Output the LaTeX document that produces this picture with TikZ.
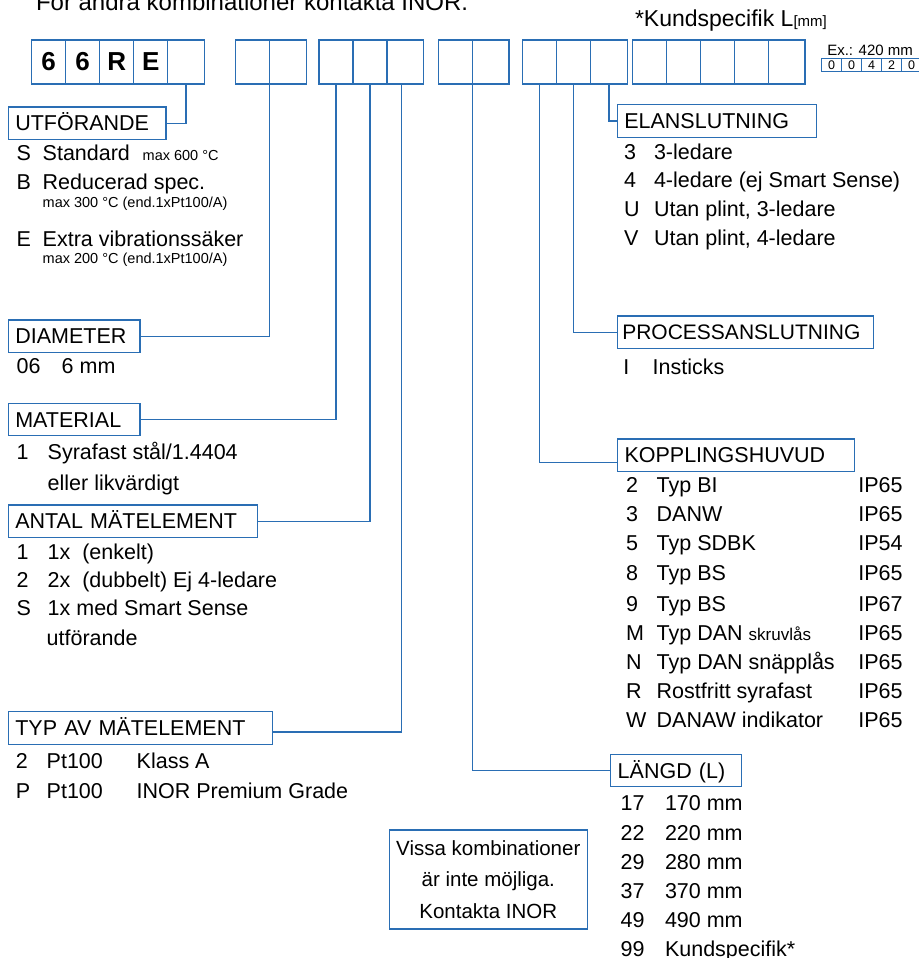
\documentclass[tikz,border=0pt]{standalone}
\usepackage{fontspec}
\setmainfont{Liberation Sans}
\usetikzlibrary{positioning}
\definecolor{inorblue}{RGB}{42,110,180}
\tikzset{
    % connector from a code cell down to its heading
    lead/.style={
           draw=inorblue,
           line width=1.3pt,}
}
\newcommand{\cellwidth}{34pt}
\newcommand{\cellheight}{44pt}
\newcommand{\bodyfont}{\fontsize{21.5}{25}\selectfont}
\newcommand{\smallfont}{\fontsize{14.5}{17}\selectfont}

\begin{document}
\begin{tikzpicture}[x=1pt, y=-1pt, node distance=0pt, outer sep=0pt]
\tikzstyle{cell}=[draw=inorblue, line width=1.3pt, rectangle, minimum height=\cellheight, minimum width=\cellwidth, anchor=north west, inner sep=0pt, font=\fontsize{26}{30}\selectfont\bfseries]
\tikzstyle{lastcell}=[cell, minimum width=36.6pt]
\tikzstyle{excell}=[draw=inorblue, line width=0.9pt, rectangle, minimum height=13.4pt, minimum width=20pt, anchor=north west, inner sep=0pt, font=\fontsize{12.5}{14}\selectfont]
\tikzstyle{head}=[draw=inorblue, line width=1.3pt, rectangle, anchor=north west, minimum height=32.5pt, inner xsep=7pt, text height=15.4pt, text depth=0pt, align=left, font=\bodyfont]
\tikzstyle{txt}=[anchor=base west, inner sep=0pt, font=\bodyfont]
\tikzstyle{small}=[txt, font=\smallfont]

\useasboundingbox (0,0) rectangle (918,958);

\node[txt, font=\fontsize{24}{28}\selectfont] (title) at (36,11) {För andra kombinationer kontakta INOR.};
\node[txt, font=\fontsize{23}{27}\selectfont] (kund) at (635,26.7) {*Kundspecifik L{\fontsize{15}{17}\selectfont[mm]}};
\node[txt, font=\fontsize{15}{17}\selectfont] (exlabel) at (827.3,56) {Ex.: 420 mm};

% code cells
\node[cell] (u1) at (31.7,40) {6};
\node[cell] (u2) [right = 0pt of u1] {6};
\node[cell] (u3) [right = 0pt of u2] {R};
\node[cell] (u4) [right = 0pt of u3] {E};
\node[lastcell] (u5) [right = 0pt of u4] {};

\node[cell] (d1) [right = 31.4pt of u5] {};
\node[lastcell] (d2) [right = 0pt of d1] {};

\node[cell] (m1) [right = 12.6pt of d2] {};
\node[cell] (m2) [right = 0pt of m1] {};
\node[lastcell] (m3) [right = 0pt of m2] {};

\node[cell] (l1) [right = 14.8pt of m3] {};
\node[lastcell] (l2) [right = 0pt of l1] {};

\node[cell] (e1) [right = 13.8pt of l2] {};
\node[cell] (e2) [right = 0pt of e1] {};
\node[lastcell] (e3) [right = 0pt of e2] {};

\node[cell] (k1) [right = 5pt of e3] {};
\node[cell] (k2) [right = 0pt of k1] {};
\node[cell] (k3) [right = 0pt of k2] {};
\node[cell] (k4) [right = 0pt of k3] {};
\node[lastcell] (k5) [right = 0pt of k4] {};

% example length
\node[excell] (x1) at (821.7,58.3) {0};
\node[excell] (x2) [right = 0pt of x1] {0};
\node[excell] (x3) [right = 0pt of x2] {4};
\node[excell] (x4) [right = 0pt of x3] {2};
\node[excell] (x5) [right = 0pt of x4] {0};

% headings
\node[head, text width=143.7pt] (utf) at (8.3,107) {UTFÖRANDE};
\node[head, text width=117.7pt] (dia) at (8.3,320) {DIAMETER};
\node[head, text width=117.7pt] (mat) at (8.3,403.3) {MATERIAL};
\node[head, text width=235pt] (ant) at (8.3,505) {ANTAL MÄTELEMENT};
\node[head, text width=250pt] (typ) at (8.3,711.7) {TYP AV MÄTELEMENT};
\node[head, text width=185.4pt] (elan) at (617.3,104.7) {ELANSLUTNING};
\node[head, text width=246pt, inner xsep=5pt, font=\fontsize{21}{25}\selectfont] (proc) at (617.3,316) {PROCESSANSLUTNING};
\node[head, text width=223pt] (kop) at (617.5,439) {KOPPLINGSHUVUD};
\node[head, text width=117pt] (lang) at (610.7,754.3) {LÄNGD (L)};

\path[lead] (u5.south) |- (utf.east);
\path[lead] (d1.south east) |- (dia.east);
\path[lead] (m1.south) |- (mat.east);
\path[lead] (m2.south) |- (ant.east);
\path[lead] ([xshift=-3.7pt]m3.south) |- ([yshift=-4pt]typ.east);
\path[lead] (l1.south east) |- (lang.west);
\path[lead] (e1.south) |- ([yshift=-7.4pt]kop.west);
\path[lead] (e2.south) |- (proc.west);
\path[lead] (e3.south) |- (elan.west);

% UTFÖRANDE
\node[txt] (utfS) at (16.7,160.7) {S};
\node[txt] (utfSt) at (42.7,160.7) {Standard};
\node[small] (utfSn) at (142.7,160.7) {max 600 °C};
\node[txt] (utfB) at (16.7,189.3) {B};
\node[txt] (utfBt) at (42.7,189.3) {Reducerad spec.};
\node[small] (utfBn) at (42.7,207.3) {max 300 °C (end.1xPt100/A)};
\node[txt] (utfE) at (16.7,246) {E};
\node[txt] (utfEt) at (42.7,246) {Extra vibrationssäker};
\node[small] (utfEn) at (42.7,263.3) {max 200 °C (end.1xPt100/A)};

% DIAMETER
\node[txt] (dia06) at (16.7,373.3) {06};
\node[txt] (dia06t) at (61.7,373.3) {6 mm};

% MATERIAL
\node[txt] (mat1) at (16.7,459.3) {1};
\node[txt] (mat1t) at (47.7,459.3) {Syrafast stål/1.4404};
\node[txt] (mat1u) at (47.7,490.7) {eller likvärdigt};

% ANTAL MÄTELEMENT
\node[txt] (ant1) at (16.7,559.3) {1};
\node[txt] (ant1t) at (47.7,559.3) {1x\ \ (enkelt)};
\node[txt] (ant2) at (16.7,587.7) {2};
\node[txt] (ant2t) at (47.7,587.7) {2x\ \ (dubbelt) Ej 4-ledare};
\node[txt] (antS) at (16.7,615) {S};
\node[txt] (antSt) at (47.7,615) {1x med Smart Sense};
\node[txt] (antSu) at (46.7,645) {utförande};

% TYP AV MÄTELEMENT
\node[txt] (typ2) at (16,768.3) {2};
\node[txt] (typ2s) at (46.7,768.3) {Pt100};
\node[txt] (typ2t) at (136.7,768.3) {Klass A};
\node[txt] (typP) at (16,798.3) {P};
\node[txt] (typPs) at (46.7,798.3) {Pt100};
\node[txt] (typPt) at (136.7,798.3) {INOR Premium Grade};

% ELANSLUTNING
\node[txt] (elan3) at (624,159.3) {3};
\node[txt] (elan3t) at (654,159.3) {3-ledare};
\node[txt] (elan4) at (624,187.3) {4};
\node[txt] (elan4t) at (654,187.3) {4-ledare (ej Smart Sense)};
\node[txt] (elanU) at (624,216.7) {U};
\node[txt] (elanUt) at (654,216.7) {Utan plint, 3-ledare};
\node[txt] (elanV) at (624,245) {V};
\node[txt] (elanVt) at (654,245) {Utan plint, 4-ledare};

% PROCESSANSLUTNING
\node[txt] (procI) at (623.3,374) {I};
\node[txt] (procIt) at (652.7,374) {Insticks};

% KOPPLINGSHUVUD
\node[txt] (kop2) at (626,492.7) {2};
\node[txt] (kop2t) at (656.7,492.7) {Typ BI};
\node[txt] (kop2p) at (858.3,492.7) {IP65};
\node[txt] (kop3) at (626,521.7) {3};
\node[txt] (kop3t) at (656.7,521.7) {DANW};
\node[txt] (kop3p) at (858.3,521.7) {IP65};
\node[txt] (kop5) at (626,550.7) {5};
\node[txt] (kop5t) at (656.7,550.7) {Typ SDBK};
\node[txt] (kop5p) at (858.3,550.7) {IP54};
\node[txt] (kop8) at (626,580) {8};
\node[txt] (kop8t) at (656.7,580) {Typ BS};
\node[txt] (kop8p) at (858.3,580) {IP65};
\node[txt] (kop9) at (626,611.7) {9};
\node[txt] (kop9t) at (656.7,611.7) {Typ BS};
\node[txt] (kop9p) at (858.3,611.7) {IP67};
\node[txt] (kopM) at (626,640) {M};
\node[txt] (kopMt) at (656.7,640) {Typ DAN {\fontsize{17}{20}\selectfont skruvlås}};
\node[txt] (kopMp) at (858.3,640) {IP65};
\node[txt] (kopN) at (626,669.3) {N};
\node[txt] (kopNt) at (656.7,669.3) {Typ DAN snäpplås};
\node[txt] (kopNp) at (858.3,669.3) {IP65};
\node[txt] (kopR) at (626,698.3) {R};
\node[txt] (kopRt) at (656.7,698.3) {Rostfritt syrafast};
\node[txt] (kopRp) at (858.3,698.3) {IP65};
\node[txt] (kopW) at (626,727.3) {W};
\node[txt] (kopWt) at (656.7,727.3) {DANAW indikator};
\node[txt] (kopWp) at (858.3,727.3) {IP65};

% LÄNGD
\node[txt] (lang17) at (620.7,810.7) {17};
\node[txt] (lang17t) at (665,810.7) {170 mm};
\node[txt] (lang22) at (620.7,840) {22};
\node[txt] (lang22t) at (665,840) {220 mm};
\node[txt] (lang29) at (620.7,869.3) {29};
\node[txt] (lang29t) at (665,869.3) {280 mm};
\node[txt] (lang37) at (620.7,898.3) {37};
\node[txt] (lang37t) at (665,898.3) {370 mm};
\node[txt] (lang49) at (620.7,927.3) {49};
\node[txt] (lang49t) at (665,927.3) {490 mm};
\node[txt] (lang99) at (620.7,956.7) {99};
\node[txt] (lang99t) at (665,956.7) {Kundspecifik*};

% note
\node[draw=inorblue, line width=1.3pt, rectangle, minimum width=198pt, minimum height=99pt, align=center, font=\fontsize{20.5}{31.7}\selectfont] (vissa) at (488.3,879.5) {Vissa kombinationer\\är inte möjliga.\\Kontakta INOR};

\end{tikzpicture}
\end{document}
